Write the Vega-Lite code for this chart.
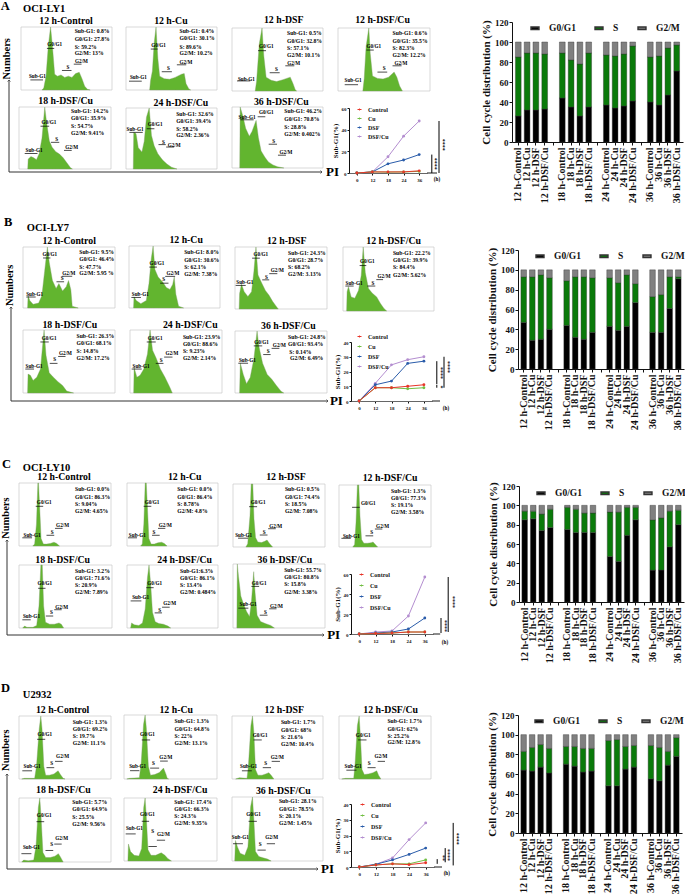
{"$schema":"https://vega.github.io/schema/vega-lite/v6.json","width":685,"height":895,"padding":0,"autosize":"none","background":"white",
"config":{"view":{"stroke":null},"axis":{"disable":true,"grid":false,"labelFont":"Liberation Serif","titleFont":"Liberation Serif","labelFontWeight":"bold","titleFontWeight":"bold","labelColor":"#111","titleColor":"#111","domainColor":"#111","tickColor":"#111","labelOverlap":false,"labelFlush":false},
"legend":{"labelFont":"Liberation Serif","labelFontWeight":"bold","labelColor":"#111","padding":0},
"style":{"f":{"stroke":"#c9c9c9","strokeWidth":0.7},"h":{"stroke":"#7d9c68","strokeWidth":0.4},"g":{"stroke":"#222","strokeWidth":0.7},"t":{"font":"Liberation Serif","fontWeight":"bold","fill":"#111","baseline":"middle","fontSize":{"expr":"{s:5.7,t:9.8,h:10.5,l:12.5,p:13}[datum.k]||5.2"},"align":{"expr":"(datum.k&&datum.k!='t')?'left':'center'"}},"n":{"font":"Liberation Serif","fontWeight":"bold","fill":"#111","fontSize":10.5,"angle":270,"align":"center","baseline":"middle"},"z":{"font":"Liberation Serif","fontWeight":"bold","fill":"#333","fontSize":6,"angle":90,"align":"center","baseline":"middle"},"w":{"stroke":"#555","strokeWidth":0.9},"v":{"stroke":"#555","strokeWidth":1}}},
"datasets":{
"ba":[{"x":"12 h-Control","a":26,"b":59,"c":15},{"x":"12 h-Cu","a":32,"b":57,"c":11},{"x":"12 h-DSF","a":32,"b":57,"c":11},{"x":"12 h-DSF/Cu","a":33,"b":55,"c":12},{"x":"18 h-Control","a":44,"b":45,"c":11},{"x":"18 h-Cu","a":35,"b":47,"c":18},{"x":"18 h-DSF","a":26,"b":52,"c":22},{"x":"18 h-DSF/Cu","a":35,"b":54,"c":11},{"x":"24 h-Control","a":37,"b":50,"c":13},{"x":"24 h-Cu","a":34,"b":52,"c":14},{"x":"24 h-DSF","a":36,"b":52,"c":12},{"x":"24 h-DSF/Cu","a":41,"b":55,"c":4},{"x":"36 h-Control","a":40,"b":45,"c":15},{"x":"36 h-Cu","a":37,"b":49,"c":14},{"x":"36 h-DSF","a":47,"b":47,"c":6},{"x":"36 h-DSF/Cu","a":71,"b":26,"c":3}],
"bb":[{"x":"12 h-Control","a":47,"b":46,"c":7},{"x":"12 h-Cu","a":29,"b":64,"c":7},{"x":"12 h-DSF","a":30,"b":65,"c":5},{"x":"12 h-DSF/Cu","a":40,"b":52,"c":8},{"x":"18 h-Control","a":44,"b":45,"c":11},{"x":"18 h-Cu","a":32,"b":61,"c":7},{"x":"18 h-DSF","a":30,"b":63,"c":7},{"x":"18 h-DSF/Cu","a":37,"b":55,"c":8},{"x":"24 h-Control","a":43,"b":49,"c":8},{"x":"24 h-Cu","a":39,"b":48,"c":13},{"x":"24 h-DSF","a":43,"b":52,"c":5},{"x":"24 h-DSF/Cu","a":67,"b":19,"c":14},{"x":"36 h-Control","a":37,"b":36,"c":27},{"x":"36 h-Cu","a":37,"b":38,"c":25},{"x":"36 h-DSF","a":61,"b":32,"c":7},{"x":"36 h-DSF/Cu","a":91,"b":2,"c":7}],
"bc":[{"x":"12 h-Control","a":85,"b":9,"c":6},{"x":"12 h-Cu","a":86,"b":8,"c":6},{"x":"12 h-DSF","a":74,"b":17,"c":9},{"x":"12 h-DSF/Cu","a":77,"b":19,"c":4},{"x":"18 h-Control","a":75,"b":23,"c":2},{"x":"18 h-Cu","a":72,"b":24,"c":4},{"x":"18 h-DSF","a":72,"b":20,"c":8},{"x":"18 h-DSF/Cu","a":72,"b":20,"c":8},{"x":"24 h-Control","a":47,"b":46,"c":7},{"x":"24 h-Cu","a":42,"b":51,"c":7},{"x":"24 h-DSF","a":69,"b":29,"c":2},{"x":"24 h-DSF/Cu","a":85,"b":13,"c":2},{"x":"36 h-Control","a":33,"b":52,"c":15},{"x":"36 h-Cu","a":33,"b":54,"c":13},{"x":"36 h-DSF","a":57,"b":37,"c":6},{"x":"36 h-DSF/Cu","a":80,"b":15,"c":5}],
"bd":[{"x":"12 h-Control","a":64,"b":19,"c":17},{"x":"12 h-Cu","a":63,"b":24,"c":13},{"x":"12 h-DSF","a":67,"b":23,"c":10},{"x":"12 h-DSF/Cu","a":61,"b":25,"c":14},{"x":"18 h-Control","a":70,"b":18,"c":12},{"x":"18 h-Cu","a":68,"b":20,"c":12},{"x":"18 h-DSF","a":62,"b":24,"c":14},{"x":"18 h-DSF/Cu","a":63,"b":23,"c":14},{"x":"24 h-Control","a":48,"b":46,"c":6},{"x":"24 h-Cu","a":48,"b":47,"c":5},{"x":"24 h-DSF","a":65,"b":23,"c":12},{"x":"24 h-DSF/Cu","a":67,"b":22,"c":11},{"x":"36 h-Control","a":55,"b":34,"c":11},{"x":"36 h-Cu","a":53,"b":34,"c":13},{"x":"36 h-DSF","a":69,"b":14,"c":17},{"x":"36 h-DSF/Cu","a":78,"b":19,"c":3}]},
"resolve":{"scale":{"x":"independent","y":"independent","color":"independent"},"axis":{"x":"independent","y":"independent"},"legend":{"color":"independent"}},
"layer":[
{"data":{"values":[{"u":0,"v":100,"o":1},{"u":0,"v":0,"o":2},{"u":100,"v":0,"o":3},{"r1":0,"r2":100,"r":0},{"r1":100,"r2":0,"r":90},{"p":-2.6,"q":180,"t":"A","k":"l"},{"p":4.5,"q":177,"t":"OCI-LY1","k":"h"},{"p":101.3,"q":0,"t":"PI","k":"p"},{"e":-0.6,"d":123,"t2":"Numbers"}]},"layer":[{"mark":{"type":"line","color":"#333","strokeWidth":1},"encoding":{"x":{"field":"u","type":"quantitative","scale":{"domain":[0,100],"range":[9,322]}},"y":{"field":"v","type":"quantitative","scale":{"domain":[0,100],"range":[172,80]}},"order":{"field":"o"}}},{"mark":{"type":"point","shape":"M-1,1L0,0L1,1","filled":false,"size":9,"stroke":"#333","strokeWidth":1},"encoding":{"x":{"field":"r1","type":"quantitative"},"y":{"field":"r2","type":"quantitative"},"angle":{"field":"r","type":"quantitative","scale":null}}},{"mark":{"type":"text","style":"t"},"encoding":{"x":{"field":"p","type":"quantitative"},"y":{"field":"q","type":"quantitative"},"text":{"field":"t"}}},{"mark":{"type":"text","style":"n"},"encoding":{"x":{"field":"e","type":"quantitative"},"y":{"field":"d","type":"quantitative"},"text":{"field":"t2"}}}]},
{"data":{"values":[{"u":0,"v":100,"o":1},{"u":0,"v":0,"o":2},{"u":100,"v":0,"o":3},{"r1":0,"r2":100,"r":0},{"r1":100,"r2":0,"r":90},{"p":-2.2,"q":190,"t":"B","k":"l"},{"p":5,"q":184,"t":"OCI-LY7","k":"h"},{"p":100.6,"q":0,"t":"PI","k":"p"},{"e":-0.3,"d":123,"t2":"Numbers"}]},"layer":[{"mark":{"type":"line","color":"#333","strokeWidth":1},"encoding":{"x":{"field":"u","type":"quantitative","scale":{"domain":[0,100],"range":[11,328]}},"y":{"field":"v","type":"quantitative","scale":{"domain":[0,100],"range":[401,307]}},"order":{"field":"o"}}},{"mark":{"type":"point","shape":"M-1,1L0,0L1,1","filled":false,"size":9,"stroke":"#333","strokeWidth":1},"encoding":{"x":{"field":"r1","type":"quantitative"},"y":{"field":"r2","type":"quantitative"},"angle":{"field":"r","type":"quantitative","scale":null}}},{"mark":{"type":"text","style":"t"},"encoding":{"x":{"field":"p","type":"quantitative"},"y":{"field":"q","type":"quantitative"},"text":{"field":"t"}}},{"mark":{"type":"text","style":"n"},"encoding":{"x":{"field":"e","type":"quantitative"},"y":{"field":"d","type":"quantitative"},"text":{"field":"t2"}}}]},
{"data":{"values":[{"u":0,"v":100,"o":1},{"u":0,"v":0,"o":2},{"u":100,"v":0,"o":3},{"r1":0,"r2":100,"r":0},{"r1":100,"r2":0,"r":90},{"p":-1.6,"q":180,"t":"C","k":"l"},{"p":5,"q":176,"t":"OCI-LY10","k":"h"},{"p":101,"q":0,"t":"PI","k":"p"},{"e":-0.3,"d":123,"t2":"Numbers"}]},"layer":[{"mark":{"type":"line","color":"#333","strokeWidth":1},"encoding":{"x":{"field":"u","type":"quantitative","scale":{"domain":[0,100],"range":[7,324]}},"y":{"field":"v","type":"quantitative","scale":{"domain":[0,100],"range":[635,540]}},"order":{"field":"o"}}},{"mark":{"type":"point","shape":"M-1,1L0,0L1,1","filled":false,"size":9,"stroke":"#333","strokeWidth":1},"encoding":{"x":{"field":"r1","type":"quantitative"},"y":{"field":"r2","type":"quantitative"},"angle":{"field":"r","type":"quantitative","scale":null}}},{"mark":{"type":"text","style":"t"},"encoding":{"x":{"field":"p","type":"quantitative"},"y":{"field":"q","type":"quantitative"},"text":{"field":"t"}}},{"mark":{"type":"text","style":"n"},"encoding":{"x":{"field":"e","type":"quantitative"},"y":{"field":"d","type":"quantitative"},"text":{"field":"t2"}}}]},
{"data":{"values":[{"u":0,"v":100,"o":1},{"u":0,"v":0,"o":2},{"u":100,"v":0,"o":3},{"r1":0,"r2":100,"r":0},{"r1":100,"r2":0,"r":90},{"p":-1.9,"q":191,"t":"D","k":"l"},{"p":5.1,"q":183,"t":"U2932","k":"h"},{"p":101,"q":0,"t":"PI","k":"p"},{"e":-0.3,"d":125,"t2":"Numbers"}]},"layer":[{"mark":{"type":"line","color":"#333","strokeWidth":1},"encoding":{"x":{"field":"u","type":"quantitative","scale":{"domain":[0,100],"range":[7,318]}},"y":{"field":"v","type":"quantitative","scale":{"domain":[0,100],"range":[869,774]}},"order":{"field":"o"}}},{"mark":{"type":"point","shape":"M-1,1L0,0L1,1","filled":false,"size":9,"stroke":"#333","strokeWidth":1},"encoding":{"x":{"field":"r1","type":"quantitative"},"y":{"field":"r2","type":"quantitative"},"angle":{"field":"r","type":"quantitative","scale":null}}},{"mark":{"type":"text","style":"t"},"encoding":{"x":{"field":"p","type":"quantitative"},"y":{"field":"q","type":"quantitative"},"text":{"field":"t"}}},{"mark":{"type":"text","style":"n"},"encoding":{"x":{"field":"e","type":"quantitative"},"y":{"field":"d","type":"quantitative"},"text":{"field":"t2"}}}]},

{"data":{"values":[{"c":230,"n":0},{"c":250,"n":3},{"c":275,"n":22},{"c":300,"n":70},{"c":325,"n":100},{"c":345,"n":70},{"c":370,"n":25},{"c":400,"n":22},{"c":440,"n":24},{"c":480,"n":20},{"c":520,"n":22},{"c":560,"n":20},{"c":600,"n":26},{"c":640,"n":28},{"c":670,"n":18},{"c":700,"n":6},{"c":730,"n":1},{"c":760,"n":0},{"f":0,"f2":1000,"g":0,"g2":100},{"a":103,"b":242,"h":16},{"a":285,"b":365,"h":66},{"a":450,"b":555,"h":31},{"a":580,"b":665,"h":41},{"p":180,"q":22,"t":"Sub-G1"},{"p":370,"q":73,"t":"G0/G1"},{"p":515,"q":37,"t":"S"},{"p":665,"q":46,"t":"G2/M"},{"p":590,"q":93,"k":"s","t":"Sub-G1: 0.8%"},{"p":590,"q":81,"k":"s","t":"G0/G1: 27.8%"},{"p":590,"q":69,"k":"s","t":"S: 59.2%"},{"p":590,"q":59,"k":"s","t":"G2/M: 13%"},{"p":495,"q":109,"k":"t","t":"12 h-Control"}]},"layer":[{"mark":{"type":"rect","style":"f","fill":"transparent"},"encoding":{"x":{"field":"f","type":"quantitative","scale":{"domain":[0,1000],"range":[21,112]}},"x2":{"field":"f2"},"y":{"field":"g","type":"quantitative","scale":{"domain":[0,100],"range":[90,27]}},"y2":{"field":"g2"}}},{"mark":{"type":"area","style":"h","fill":"#62b52f"},"encoding":{"x":{"field":"c","type":"quantitative"},"y":{"field":"n","type":"quantitative"}}},{"mark":{"type":"rule","style":"g"},"encoding":{"x":{"field":"a","type":"quantitative"},"x2":{"field":"b"},"y":{"field":"h","type":"quantitative"}}},{"mark":{"type":"text","style":"t"},"encoding":{"x":{"field":"p","type":"quantitative"},"y":{"field":"q","type":"quantitative"},"text":{"field":"t"}}}]},
{"data":{"values":[{"c":260,"n":0},{"c":270,"n":15},{"c":290,"n":30},{"c":310,"n":75},{"c":330,"n":100},{"c":350,"n":50},{"c":370,"n":22},{"c":420,"n":18},{"c":480,"n":17},{"c":540,"n":20},{"c":610,"n":25},{"c":640,"n":26},{"c":660,"n":10},{"c":690,"n":2},{"c":710,"n":0},{"f":0,"f2":1000,"g":0,"g2":100},{"a":33,"b":173,"h":14},{"a":272,"b":349,"h":65},{"a":393,"b":504,"h":29},{"a":559,"b":662,"h":40},{"p":136,"q":20,"t":"Sub-G1"},{"p":357,"q":72,"t":"G0/G1"},{"p":467,"q":35,"t":"S"},{"p":658,"q":44,"t":"G2/M"},{"p":588,"q":94,"k":"s","t":"Sub-G1: 0.4%"},{"p":588,"q":82,"k":"s","t":"G0/G1: 30.1%"},{"p":588,"q":69,"k":"s","t":"S: 89.6%"},{"p":588,"q":59,"k":"s","t":"G2/M: 10.2%"},{"p":493,"q":110,"k":"t","t":"12 h-Cu"}]},"layer":[{"mark":{"type":"rect","style":"f","fill":"transparent"},"encoding":{"x":{"field":"f","type":"quantitative","scale":{"domain":[0,1000],"range":[126,217]}},"x2":{"field":"f2"},"y":{"field":"g","type":"quantitative","scale":{"domain":[0,100],"range":[90,27]}},"y2":{"field":"g2"}}},{"mark":{"type":"area","style":"h","fill":"#62b52f"},"encoding":{"x":{"field":"c","type":"quantitative"},"y":{"field":"n","type":"quantitative"}}},{"mark":{"type":"rule","style":"g"},"encoding":{"x":{"field":"a","type":"quantitative"},"x2":{"field":"b"},"y":{"field":"h","type":"quantitative"}}},{"mark":{"type":"text","style":"t"},"encoding":{"x":{"field":"p","type":"quantitative"},"y":{"field":"q","type":"quantitative"},"text":{"field":"t"}}}]},
{"data":{"values":[{"c":255,"n":0},{"c":270,"n":15},{"c":300,"n":75},{"c":330,"n":100},{"c":350,"n":55},{"c":375,"n":22},{"c":430,"n":17},{"c":490,"n":15},{"c":560,"n":18},{"c":640,"n":22},{"c":670,"n":12},{"c":695,"n":2},{"c":710,"n":0},{"f":0,"f2":1000,"g":0,"g2":100},{"a":55,"b":201,"h":16},{"a":286,"b":374,"h":64},{"a":414,"b":524,"h":29},{"a":586,"b":685,"h":40},{"p":158,"q":19,"t":"Sub-G1"},{"p":377,"q":72,"t":"G0/G1"},{"p":487,"q":35,"t":"S"},{"p":678,"q":45,"t":"G2/M"},{"p":604,"q":92,"k":"s","t":"Sub-G1: 0.5%"},{"p":604,"q":80,"k":"s","t":"G0/G1: 32.8%"},{"p":604,"q":68,"k":"s","t":"S: 57.1%"},{"p":604,"q":57,"k":"s","t":"G2/M: 10.1%"},{"p":568,"q":112,"k":"t","t":"12 h-DSF"}]},"layer":[{"mark":{"type":"rect","style":"f","fill":"transparent"},"encoding":{"x":{"field":"f","type":"quantitative","scale":{"domain":[0,1000],"range":[232,323]}},"x2":{"field":"f2"},"y":{"field":"g","type":"quantitative","scale":{"domain":[0,100],"range":[91,28]}},"y2":{"field":"g2"}}},{"mark":{"type":"area","style":"h","fill":"#62b52f"},"encoding":{"x":{"field":"c","type":"quantitative"},"y":{"field":"n","type":"quantitative"}}},{"mark":{"type":"rule","style":"g"},"encoding":{"x":{"field":"a","type":"quantitative"},"x2":{"field":"b"},"y":{"field":"h","type":"quantitative"}}},{"mark":{"type":"text","style":"t"},"encoding":{"x":{"field":"p","type":"quantitative"},"y":{"field":"q","type":"quantitative"},"text":{"field":"t"}}}]},
{"data":{"values":[{"c":270,"n":0},{"c":285,"n":20},{"c":305,"n":70},{"c":335,"n":100},{"c":350,"n":60},{"c":375,"n":24},{"c":430,"n":20},{"c":490,"n":19},{"c":550,"n":22},{"c":610,"n":30},{"c":640,"n":22},{"c":670,"n":8},{"c":700,"n":0},{"f":0,"f2":1000,"g":0,"g2":100},{"a":73,"b":218,"h":10},{"a":309,"b":389,"h":65},{"a":429,"b":535,"h":30},{"a":593,"b":691,"h":40},{"p":164,"q":18,"t":"Sub-G1"},{"p":389,"q":72,"t":"G0/G1"},{"p":502,"q":36,"t":"S"},{"p":684,"q":45,"t":"G2/M"},{"p":593,"q":92,"k":"s","t":"Sub-G1: 0.6%"},{"p":593,"q":80,"k":"s","t":"G0/G1: 35.5%"},{"p":593,"q":68,"k":"s","t":"S: 82.3%"},{"p":593,"q":57,"k":"s","t":"G2/M: 12.2%"},{"p":484,"q":112,"k":"t","t":"12 h-DSF/Cu"}]},"layer":[{"mark":{"type":"rect","style":"f","fill":"transparent"},"encoding":{"x":{"field":"f","type":"quantitative","scale":{"domain":[0,1000],"range":[338,430]}},"x2":{"field":"f2"},"y":{"field":"g","type":"quantitative","scale":{"domain":[0,100],"range":[91,28]}},"y2":{"field":"g2"}}},{"mark":{"type":"area","style":"h","fill":"#62b52f"},"encoding":{"x":{"field":"c","type":"quantitative"},"y":{"field":"n","type":"quantitative"}}},{"mark":{"type":"rule","style":"g"},"encoding":{"x":{"field":"a","type":"quantitative"},"x2":{"field":"b"},"y":{"field":"h","type":"quantitative"}}},{"mark":{"type":"text","style":"t"},"encoding":{"x":{"field":"p","type":"quantitative"},"y":{"field":"q","type":"quantitative"},"text":{"field":"t"}}}]},
{"data":{"values":[{"c":95,"n":0},{"c":100,"n":16},{"c":130,"n":20},{"c":160,"n":18},{"c":190,"n":15},{"c":220,"n":25},{"c":250,"n":50},{"c":280,"n":100},{"c":300,"n":75},{"c":330,"n":45},{"c":360,"n":35},{"c":400,"n":28},{"c":440,"n":24},{"c":480,"n":18},{"c":520,"n":10},{"c":560,"n":2},{"c":580,"n":0},{"f":0,"f2":1000,"g":0,"g2":100},{"a":62,"b":201,"h":25},{"a":234,"b":328,"h":69},{"a":347,"b":438,"h":43},{"a":489,"b":573,"h":30},{"p":164,"q":30,"t":"Sub-G1"},{"p":325,"q":76,"t":"G0/G1"},{"p":409,"q":49,"t":"S"},{"p":573,"q":35,"t":"G2/M"},{"p":566,"q":94,"k":"s","t":"Sub-G1: 14.2%"},{"p":566,"q":82,"k":"s","t":"G0/G1: 35.9%"},{"p":566,"q":70,"k":"s","t":"S: 54.7%"},{"p":566,"q":58,"k":"s","t":"G2/M: 9.41%"},{"p":507,"q":109,"k":"t","t":"18 h-DSF/Cu"}]},"layer":[{"mark":{"type":"rect","style":"f","fill":"transparent"},"encoding":{"x":{"field":"f","type":"quantitative","scale":{"domain":[0,1000],"range":[19,111]}},"x2":{"field":"f2"},"y":{"field":"g","type":"quantitative","scale":{"domain":[0,100],"range":[169,107]}},"y2":{"field":"g2"}}},{"mark":{"type":"area","style":"h","fill":"#62b52f"},"encoding":{"x":{"field":"c","type":"quantitative"},"y":{"field":"n","type":"quantitative"}}},{"mark":{"type":"rule","style":"g"},"encoding":{"x":{"field":"a","type":"quantitative"},"x2":{"field":"b"},"y":{"field":"h","type":"quantitative"}}},{"mark":{"type":"text","style":"t"},"encoding":{"x":{"field":"p","type":"quantitative"},"y":{"field":"q","type":"quantitative"},"text":{"field":"t"}}}]},
{"data":{"values":[{"c":80,"n":0},{"c":85,"n":60},{"c":110,"n":58},{"c":135,"n":35},{"c":175,"n":28},{"c":200,"n":45},{"c":225,"n":85},{"c":255,"n":100},{"c":280,"n":55},{"c":310,"n":38},{"c":350,"n":25},{"c":400,"n":15},{"c":450,"n":8},{"c":500,"n":3},{"c":560,"n":0},{"f":0,"f2":1000,"g":0,"g2":100},{"a":37,"b":184,"h":60},{"a":228,"b":312,"h":66},{"a":357,"b":437,"h":40},{"a":441,"b":529,"h":36},{"p":99,"q":66,"t":"Sub-G1"},{"p":320,"q":73,"t":"G0/G1"},{"p":412,"q":45,"t":"S"},{"p":529,"q":40,"t":"G2/M"},{"p":551,"q":90,"k":"s","t":"Sub-G1: 32.6%"},{"p":551,"q":78,"k":"s","t":"G0/G1: 39.4%"},{"p":551,"q":66,"k":"s","t":"S: 58.2%"},{"p":551,"q":55,"k":"s","t":"G2/M: 2.36%"},{"p":603,"q":109,"k":"t","t":"24 h-DSF/Cu"}]},"layer":[{"mark":{"type":"rect","style":"f","fill":"transparent"},"encoding":{"x":{"field":"f","type":"quantitative","scale":{"domain":[0,1000],"range":[126,217]}},"x2":{"field":"f2"},"y":{"field":"g","type":"quantitative","scale":{"domain":[0,100],"range":[169,108]}},"y2":{"field":"g2"}}},{"mark":{"type":"area","style":"h","fill":"#62b52f"},"encoding":{"x":{"field":"c","type":"quantitative"},"y":{"field":"n","type":"quantitative"}}},{"mark":{"type":"rule","style":"g"},"encoding":{"x":{"field":"a","type":"quantitative"},"x2":{"field":"b"},"y":{"field":"h","type":"quantitative"}}},{"mark":{"type":"text","style":"t"},"encoding":{"x":{"field":"p","type":"quantitative"},"y":{"field":"q","type":"quantitative"},"text":{"field":"t"}}}]},
{"data":{"values":[{"c":85,"n":0},{"c":90,"n":100},{"c":120,"n":85},{"c":150,"n":65},{"c":190,"n":52},{"c":220,"n":60},{"c":265,"n":78},{"c":290,"n":50},{"c":320,"n":28},{"c":360,"n":18},{"c":400,"n":10},{"c":450,"n":5},{"c":500,"n":2},{"c":570,"n":0},{"f":0,"f2":1000,"g":0,"g2":100},{"a":92,"b":238,"h":79},{"a":282,"b":366,"h":84},{"a":403,"b":495,"h":39},{"a":505,"b":593,"h":21},{"p":165,"q":84,"t":"Sub-G1"},{"p":377,"q":92,"t":"G0/G1"},{"p":458,"q":44,"t":"S"},{"p":593,"q":27,"t":"G2/M"},{"p":575,"q":93,"k":"s","t":"Sub-G1: 46.2%"},{"p":575,"q":81,"k":"s","t":"G0/G1: 70.8%"},{"p":575,"q":68,"k":"s","t":"S: 28.8%"},{"p":575,"q":56,"k":"s","t":"G2/M: 0.402%"},{"p":542,"q":109,"k":"t","t":"36 h-DSF/Cu"}]},"layer":[{"mark":{"type":"rect","style":"f","fill":"transparent"},"encoding":{"x":{"field":"f","type":"quantitative","scale":{"domain":[0,1000],"range":[232,323]}},"x2":{"field":"f2"},"y":{"field":"g","type":"quantitative","scale":{"domain":[0,100],"range":[168,107]}},"y2":{"field":"g2"}}},{"mark":{"type":"area","style":"h","fill":"#62b52f"},"encoding":{"x":{"field":"c","type":"quantitative"},"y":{"field":"n","type":"quantitative"}}},{"mark":{"type":"rule","style":"g"},"encoding":{"x":{"field":"a","type":"quantitative"},"x2":{"field":"b"},"y":{"field":"h","type":"quantitative"}}},{"mark":{"type":"text","style":"t"},"encoding":{"x":{"field":"p","type":"quantitative"},"y":{"field":"q","type":"quantitative"},"text":{"field":"t"}}}]},

{"data":{"values":[{"c":50,"n":0},{"c":55,"n":20},{"c":75,"n":12},{"c":110,"n":6},{"c":170,"n":8},{"c":205,"n":20},{"c":235,"n":60},{"c":265,"n":100},{"c":285,"n":75},{"c":320,"n":45},{"c":360,"n":32},{"c":390,"n":40},{"c":430,"n":28},{"c":470,"n":35},{"c":495,"n":45},{"c":520,"n":30},{"c":535,"n":3},{"c":600,"n":0},{"f":0,"f2":1000,"g":0,"g2":100},{"a":36,"b":138,"h":18},{"a":218,"b":298,"h":82},{"a":364,"b":447,"h":43},{"a":425,"b":535,"h":52},{"p":127,"q":23,"t":"Sub-G1"},{"p":291,"q":89,"t":"G0/G1"},{"p":425,"q":49,"t":"S"},{"p":498,"q":58,"t":"G2/M"},{"p":611,"q":92,"k":"s","t":"Sub-G1: 9.5%"},{"p":611,"q":80,"k":"s","t":"G0/G1: 46.4%"},{"p":611,"q":68,"k":"s","t":"S: 47.7%"},{"p":611,"q":57,"k":"s","t":"G2/M: 5.95 %"},{"p":502,"q":110,"k":"t","t":"12 h-Control"}]},"layer":[{"mark":{"type":"rect","style":"f","fill":"transparent"},"encoding":{"x":{"field":"f","type":"quantitative","scale":{"domain":[0,1000],"range":[23,115]}},"x2":{"field":"f2"},"y":{"field":"g","type":"quantitative","scale":{"domain":[0,100],"range":[308,247]}},"y2":{"field":"g2"}}},{"mark":{"type":"area","style":"h","fill":"#62b52f"},"encoding":{"x":{"field":"c","type":"quantitative"},"y":{"field":"n","type":"quantitative"}}},{"mark":{"type":"rule","style":"g"},"encoding":{"x":{"field":"a","type":"quantitative"},"x2":{"field":"b"},"y":{"field":"h","type":"quantitative"}}},{"mark":{"type":"text","style":"t"},"encoding":{"x":{"field":"p","type":"quantitative"},"y":{"field":"q","type":"quantitative"},"text":{"field":"t"}}}]},
{"data":{"values":[{"c":50,"n":0},{"c":55,"n":18},{"c":80,"n":12},{"c":130,"n":7},{"c":190,"n":12},{"c":220,"n":40},{"c":245,"n":80},{"c":265,"n":100},{"c":285,"n":62},{"c":320,"n":50},{"c":370,"n":42},{"c":410,"n":33},{"c":450,"n":30},{"c":480,"n":38},{"c":497,"n":50},{"c":515,"n":22},{"c":545,"n":3},{"c":600,"n":0},{"f":0,"f2":1000,"g":0,"g2":100},{"a":26,"b":131,"h":17},{"a":223,"b":307,"h":66},{"a":343,"b":434,"h":40},{"a":398,"b":507,"h":51},{"p":124,"q":22,"t":"Sub-G1"},{"p":307,"q":73,"t":"G0/G1"},{"p":380,"q":47,"t":"S"},{"p":482,"q":56,"t":"G2/M"},{"p":606,"q":90,"k":"s","t":"Sub-G1: 8.0%"},{"p":606,"q":78,"k":"s","t":"G0/G1: 30.6%"},{"p":606,"q":66,"k":"s","t":"S: 62.1%"},{"p":606,"q":55,"k":"s","t":"G2/M: 7.38%"},{"p":628,"q":109,"k":"t","t":"12 h-Cu"}]},"layer":[{"mark":{"type":"rect","style":"f","fill":"transparent"},"encoding":{"x":{"field":"f","type":"quantitative","scale":{"domain":[0,1000],"range":[129,220]}},"x2":{"field":"f2"},"y":{"field":"g","type":"quantitative","scale":{"domain":[0,100],"range":[308,246]}},"y2":{"field":"g2"}}},{"mark":{"type":"area","style":"h","fill":"#62b52f"},"encoding":{"x":{"field":"c","type":"quantitative"},"y":{"field":"n","type":"quantitative"}}},{"mark":{"type":"rule","style":"g"},"encoding":{"x":{"field":"a","type":"quantitative"},"x2":{"field":"b"},"y":{"field":"h","type":"quantitative"}}},{"mark":{"type":"text","style":"t"},"encoding":{"x":{"field":"p","type":"quantitative"},"y":{"field":"q","type":"quantitative"},"text":{"field":"t"}}}]},
{"data":{"values":[{"c":45,"n":0},{"c":50,"n":25},{"c":70,"n":40},{"c":100,"n":28},{"c":140,"n":20},{"c":180,"n":28},{"c":205,"n":60},{"c":228,"n":100},{"c":250,"n":55},{"c":290,"n":42},{"c":330,"n":30},{"c":370,"n":22},{"c":410,"n":12},{"c":445,"n":5},{"c":470,"n":0},{"f":0,"f2":1000,"g":0,"g2":100},{"a":7,"b":117,"h":38},{"a":186,"b":270,"h":82},{"a":296,"b":372,"h":47},{"a":372,"b":460,"h":57},{"p":106,"q":43,"t":"Sub-G1"},{"p":281,"q":88,"t":"G0/G1"},{"p":343,"q":52,"t":"S"},{"p":460,"q":63,"t":"G2/M"},{"p":577,"q":90,"k":"s","t":"Sub-G1: 24.3%"},{"p":577,"q":79,"k":"s","t":"G0/G1: 28.7%"},{"p":577,"q":67,"k":"s","t":"S: 68.2%"},{"p":577,"q":56,"k":"s","t":"G2/M: 3.13%"},{"p":562,"q":110,"k":"t","t":"12 h-DSF"}]},"layer":[{"mark":{"type":"rect","style":"f","fill":"transparent"},"encoding":{"x":{"field":"f","type":"quantitative","scale":{"domain":[0,1000],"range":[235,327]}},"x2":{"field":"f2"},"y":{"field":"g","type":"quantitative","scale":{"domain":[0,100],"range":[309,247]}},"y2":{"field":"g2"}}},{"mark":{"type":"area","style":"h","fill":"#62b52f"},"encoding":{"x":{"field":"c","type":"quantitative"},"y":{"field":"n","type":"quantitative"}}},{"mark":{"type":"rule","style":"g"},"encoding":{"x":{"field":"a","type":"quantitative"},"x2":{"field":"b"},"y":{"field":"h","type":"quantitative"}}},{"mark":{"type":"text","style":"t"},"encoding":{"x":{"field":"p","type":"quantitative"},"y":{"field":"q","type":"quantitative"},"text":{"field":"t"}}}]},
{"data":{"values":[{"c":40,"n":0},{"c":45,"n":30},{"c":60,"n":38},{"c":90,"n":22},{"c":130,"n":20},{"c":170,"n":32},{"c":200,"n":55},{"c":222,"n":100},{"c":245,"n":60},{"c":280,"n":35},{"c":320,"n":28},{"c":370,"n":22},{"c":410,"n":12},{"c":450,"n":4},{"c":480,"n":0},{"f":0,"f2":1000,"g":0,"g2":100},{"a":26,"b":117,"h":39},{"a":183,"b":256,"h":71},{"a":267,"b":355,"h":39},{"a":366,"b":440,"h":49},{"p":121,"q":44,"t":"Sub-G1"},{"p":267,"q":78,"t":"G0/G1"},{"p":330,"q":44,"t":"S"},{"p":451,"q":54,"t":"G2/M"},{"p":549,"q":90,"k":"s","t":"Sub-G1: 22.2%"},{"p":549,"q":79,"k":"s","t":"G0/G1: 39.9%"},{"p":549,"q":68,"k":"s","t":"S: 84.4%"},{"p":549,"q":56,"k":"s","t":"G2/M: 5.62%"},{"p":557,"q":109,"k":"t","t":"12 h-DSF/Cu"}]},"layer":[{"mark":{"type":"rect","style":"f","fill":"transparent"},"encoding":{"x":{"field":"f","type":"quantitative","scale":{"domain":[0,1000],"range":[343,434]}},"x2":{"field":"f2"},"y":{"field":"g","type":"quantitative","scale":{"domain":[0,100],"range":[311,247]}},"y2":{"field":"g2"}}},{"mark":{"type":"area","style":"h","fill":"#62b52f"},"encoding":{"x":{"field":"c","type":"quantitative"},"y":{"field":"n","type":"quantitative"}}},{"mark":{"type":"rule","style":"g"},"encoding":{"x":{"field":"a","type":"quantitative"},"x2":{"field":"b"},"y":{"field":"h","type":"quantitative"}}},{"mark":{"type":"text","style":"t"},"encoding":{"x":{"field":"p","type":"quantitative"},"y":{"field":"q","type":"quantitative"},"text":{"field":"t"}}}]},
{"data":{"values":[{"c":50,"n":0},{"c":55,"n":30},{"c":80,"n":28},{"c":110,"n":20},{"c":150,"n":25},{"c":190,"n":38},{"c":229,"n":100},{"c":250,"n":60},{"c":285,"n":32},{"c":330,"n":25},{"c":380,"n":18},{"c":430,"n":12},{"c":475,"n":3},{"c":550,"n":0},{"f":0,"f2":1000,"g":0,"g2":100},{"a":25,"b":120,"h":38},{"a":189,"b":280,"h":81},{"a":291,"b":375,"h":47},{"a":382,"b":462,"h":58},{"p":120,"q":43,"t":"Sub-G1"},{"p":284,"q":88,"t":"G0/G1"},{"p":345,"q":54,"t":"S"},{"p":462,"q":63,"t":"G2/M"},{"p":582,"q":91,"k":"s","t":"Sub-G1: 26.3%"},{"p":582,"q":79,"k":"s","t":"G0/G1: 68.1%"},{"p":582,"q":67,"k":"s","t":"S: 14.8%"},{"p":582,"q":56,"k":"s","t":"G2/M: 17.2%"},{"p":509,"q":108,"k":"t","t":"18 h-DSF/Cu"}]},"layer":[{"mark":{"type":"rect","style":"f","fill":"transparent"},"encoding":{"x":{"field":"f","type":"quantitative","scale":{"domain":[0,1000],"range":[23,115]}},"x2":{"field":"f2"},"y":{"field":"g","type":"quantitative","scale":{"domain":[0,100],"range":[393,330]}},"y2":{"field":"g2"}}},{"mark":{"type":"area","style":"h","fill":"#62b52f"},"encoding":{"x":{"field":"c","type":"quantitative"},"y":{"field":"n","type":"quantitative"}}},{"mark":{"type":"rule","style":"g"},"encoding":{"x":{"field":"a","type":"quantitative"},"x2":{"field":"b"},"y":{"field":"h","type":"quantitative"}}},{"mark":{"type":"text","style":"t"},"encoding":{"x":{"field":"p","type":"quantitative"},"y":{"field":"q","type":"quantitative"},"text":{"field":"t"}}}]},
{"data":{"values":[{"c":40,"n":0},{"c":45,"n":40},{"c":75,"n":25},{"c":110,"n":28},{"c":150,"n":38},{"c":190,"n":62},{"c":218,"n":100},{"c":245,"n":68},{"c":285,"n":55},{"c":330,"n":38},{"c":380,"n":25},{"c":430,"n":10},{"c":460,"n":0},{"f":0,"f2":1000,"g":0,"g2":100},{"a":18,"b":127,"h":38},{"a":182,"b":280,"h":81},{"a":280,"b":364,"h":47},{"a":371,"b":462,"h":57},{"p":120,"q":43,"t":"Sub-G1"},{"p":273,"q":88,"t":"G0/G1"},{"p":338,"q":52,"t":"S"},{"p":455,"q":63,"t":"G2/M"},{"p":575,"q":89,"k":"s","t":"Sub-G1: 23.9%"},{"p":575,"q":78,"k":"s","t":"G0/G1: 88.6%"},{"p":575,"q":66,"k":"s","t":"S: 9.23%"},{"p":575,"q":55,"k":"s","t":"G2/M: 2.14%"},{"p":655,"q":108,"k":"t","t":"24 h-DSF/Cu"}]},"layer":[{"mark":{"type":"rect","style":"f","fill":"transparent"},"encoding":{"x":{"field":"f","type":"quantitative","scale":{"domain":[0,1000],"range":[130,222]}},"x2":{"field":"f2"},"y":{"field":"g","type":"quantitative","scale":{"domain":[0,100],"range":[393,330]}},"y2":{"field":"g2"}}},{"mark":{"type":"area","style":"h","fill":"#62b52f"},"encoding":{"x":{"field":"c","type":"quantitative"},"y":{"field":"n","type":"quantitative"}}},{"mark":{"type":"rule","style":"g"},"encoding":{"x":{"field":"a","type":"quantitative"},"x2":{"field":"b"},"y":{"field":"h","type":"quantitative"}}},{"mark":{"type":"text","style":"t"},"encoding":{"x":{"field":"p","type":"quantitative"},"y":{"field":"q","type":"quantitative"},"text":{"field":"t"}}}]},
{"data":{"values":[{"c":50,"n":0},{"c":58,"n":48},{"c":90,"n":30},{"c":125,"n":15},{"c":165,"n":25},{"c":205,"n":55},{"c":240,"n":100},{"c":260,"n":75},{"c":300,"n":48},{"c":350,"n":30},{"c":400,"n":22},{"c":450,"n":12},{"c":500,"n":3},{"c":530,"n":0},{"f":0,"f2":1000,"g":0,"g2":100},{"a":36,"b":142,"h":48},{"a":204,"b":296,"h":76},{"a":307,"b":387,"h":62},{"a":398,"b":482,"h":72},{"p":135,"q":53,"t":"Sub-G1"},{"p":288,"q":82,"t":"G0/G1"},{"p":361,"q":68,"t":"S"},{"p":482,"q":77,"t":"G2/M"},{"p":577,"q":90,"k":"s","t":"Sub-G1: 24.8%"},{"p":577,"q":79,"k":"s","t":"G0/G1: 93.4%"},{"p":591,"q":66,"k":"s","t":"S: 0.14%"},{"p":599,"q":56,"k":"s","t":"G2/M: 6.49%"},{"p":580,"q":108,"k":"t","t":"36 h-DSF/Cu"}]},"layer":[{"mark":{"type":"rect","style":"f","fill":"transparent"},"encoding":{"x":{"field":"f","type":"quantitative","scale":{"domain":[0,1000],"range":[235,327]}},"x2":{"field":"f2"},"y":{"field":"g","type":"quantitative","scale":{"domain":[0,100],"range":[393,331]}},"y2":{"field":"g2"}}},{"mark":{"type":"area","style":"h","fill":"#62b52f"},"encoding":{"x":{"field":"c","type":"quantitative"},"y":{"field":"n","type":"quantitative"}}},{"mark":{"type":"rule","style":"g"},"encoding":{"x":{"field":"a","type":"quantitative"},"x2":{"field":"b"},"y":{"field":"h","type":"quantitative"}}},{"mark":{"type":"text","style":"t"},"encoding":{"x":{"field":"p","type":"quantitative"},"y":{"field":"q","type":"quantitative"},"text":{"field":"t"}}}]},

{"data":{"values":[{"c":150,"n":0},{"c":170,"n":3},{"c":190,"n":35},{"c":205,"n":100},{"c":212,"n":100},{"c":225,"n":60},{"c":240,"n":12},{"c":265,"n":3},{"c":300,"n":3},{"c":340,"n":4},{"c":380,"n":6},{"c":410,"n":4},{"c":440,"n":0},{"f":0,"f2":1000,"g":0,"g2":100},{"a":36,"b":142,"h":13},{"a":182,"b":263,"h":63},{"a":299,"b":383,"h":17},{"a":391,"b":474,"h":28},{"p":142,"q":18,"t":"Sub-G1"},{"p":274,"q":70,"t":"G0/G1"},{"p":361,"q":22,"t":"S"},{"p":474,"q":33,"t":"G2/M"},{"p":609,"q":90,"k":"s","t":"Sub-G1: 0.0%"},{"p":609,"q":78,"k":"s","t":"G0/G1: 86.3%"},{"p":609,"q":66,"k":"s","t":"S: 9.04%"},{"p":609,"q":56,"k":"s","t":"G2/M: 4.65%"},{"p":489,"q":110,"k":"t","t":"12 h-Control"}]},"layer":[{"mark":{"type":"rect","style":"f","fill":"transparent"},"encoding":{"x":{"field":"f","type":"quantitative","scale":{"domain":[0,1000],"range":[19,111]}},"x2":{"field":"f2"},"y":{"field":"g","type":"quantitative","scale":{"domain":[0,100],"range":[546,483]}},"y2":{"field":"g2"}}},{"mark":{"type":"area","style":"h","fill":"#62b52f"},"encoding":{"x":{"field":"c","type":"quantitative"},"y":{"field":"n","type":"quantitative"}}},{"mark":{"type":"rule","style":"g"},"encoding":{"x":{"field":"a","type":"quantitative"},"x2":{"field":"b"},"y":{"field":"h","type":"quantitative"}}},{"mark":{"type":"text","style":"t"},"encoding":{"x":{"field":"p","type":"quantitative"},"y":{"field":"q","type":"quantitative"},"text":{"field":"t"}}}]},
{"data":{"values":[{"c":150,"n":0},{"c":168,"n":3},{"c":185,"n":35},{"c":200,"n":100},{"c":212,"n":100},{"c":225,"n":60},{"c":240,"n":12},{"c":265,"n":3},{"c":300,"n":3},{"c":340,"n":5},{"c":380,"n":6},{"c":410,"n":4},{"c":440,"n":0},{"f":0,"f2":1000,"g":0,"g2":100},{"a":11,"b":110,"h":13},{"a":183,"b":267,"h":63},{"a":275,"b":359,"h":17},{"a":341,"b":421,"h":28},{"p":114,"q":18,"t":"Sub-G1"},{"p":275,"q":70,"t":"G0/G1"},{"p":297,"q":22,"t":"S"},{"p":421,"q":33,"t":"G2/M"},{"p":553,"q":90,"k":"s","t":"Sub-G1: 0.0%"},{"p":553,"q":78,"k":"s","t":"G0/G1: 86.4%"},{"p":553,"q":66,"k":"s","t":"S: 8.78%"},{"p":553,"q":56,"k":"s","t":"G2/M: 4.8%"},{"p":634,"q":110,"k":"t","t":"12 h-Cu"}]},"layer":[{"mark":{"type":"rect","style":"f","fill":"transparent"},"encoding":{"x":{"field":"f","type":"quantitative","scale":{"domain":[0,1000],"range":[127,218]}},"x2":{"field":"f2"},"y":{"field":"g","type":"quantitative","scale":{"domain":[0,100],"range":[546,483]}},"y2":{"field":"g2"}}},{"mark":{"type":"area","style":"h","fill":"#62b52f"},"encoding":{"x":{"field":"c","type":"quantitative"},"y":{"field":"n","type":"quantitative"}}},{"mark":{"type":"rule","style":"g"},"encoding":{"x":{"field":"a","type":"quantitative"},"x2":{"field":"b"},"y":{"field":"h","type":"quantitative"}}},{"mark":{"type":"text","style":"t"},"encoding":{"x":{"field":"p","type":"quantitative"},"y":{"field":"q","type":"quantitative"},"text":{"field":"t"}}}]},
{"data":{"values":[{"c":140,"n":0},{"c":160,"n":5},{"c":185,"n":50},{"c":198,"n":100},{"c":215,"n":100},{"c":228,"n":45},{"c":245,"n":15},{"c":270,"n":8},{"c":310,"n":7},{"c":345,"n":9},{"c":370,"n":11},{"c":395,"n":6},{"c":430,"n":0},{"f":0,"f2":1000,"g":0,"g2":100},{"a":55,"b":164,"h":14},{"a":175,"b":262,"h":64},{"a":291,"b":375,"h":19},{"a":382,"b":465,"h":29},{"p":116,"q":19,"t":"Sub-G1"},{"p":273,"q":71,"t":"G0/G1"},{"p":338,"q":24,"t":"S"},{"p":465,"q":34,"t":"G2/M"},{"p":564,"q":92,"k":"s","t":"Sub-G1: 0.5%"},{"p":564,"q":80,"k":"s","t":"G0/G1: 74.4%"},{"p":564,"q":68,"k":"s","t":"S: 18.5%"},{"p":564,"q":57,"k":"s","t":"G2/M: 7.08%"},{"p":575,"q":111,"k":"t","t":"12 h-DSF"}]},"layer":[{"mark":{"type":"rect","style":"f","fill":"transparent"},"encoding":{"x":{"field":"f","type":"quantitative","scale":{"domain":[0,1000],"range":[233,325]}},"x2":{"field":"f2"},"y":{"field":"g","type":"quantitative","scale":{"domain":[0,100],"range":[547,484]}},"y2":{"field":"g2"}}},{"mark":{"type":"area","style":"h","fill":"#62b52f"},"encoding":{"x":{"field":"c","type":"quantitative"},"y":{"field":"n","type":"quantitative"}}},{"mark":{"type":"rule","style":"g"},"encoding":{"x":{"field":"a","type":"quantitative"},"x2":{"field":"b"},"y":{"field":"h","type":"quantitative"}}},{"mark":{"type":"text","style":"t"},"encoding":{"x":{"field":"p","type":"quantitative"},"y":{"field":"q","type":"quantitative"},"text":{"field":"t"}}}]},
{"data":{"values":[{"c":150,"n":0},{"c":170,"n":4},{"c":185,"n":40},{"c":200,"n":100},{"c":215,"n":100},{"c":228,"n":50},{"c":245,"n":12},{"c":270,"n":6},{"c":310,"n":6},{"c":350,"n":7},{"c":370,"n":8},{"c":395,"n":4},{"c":420,"n":0},{"f":0,"f2":1000,"g":0,"g2":100},{"a":26,"b":128,"h":14},{"a":142,"b":226,"h":64},{"a":288,"b":372,"h":18},{"a":390,"b":471,"h":29},{"p":135,"q":18,"t":"Sub-G1"},{"p":318,"q":71,"t":"G0/G1"},{"p":354,"q":24,"t":"S"},{"p":474,"q":34,"t":"G2/M"},{"p":566,"q":91,"k":"s","t":"Sub-G1: 1.3%"},{"p":566,"q":79,"k":"s","t":"G0/G1: 77.3%"},{"p":566,"q":68,"k":"s","t":"S: 19.1%"},{"p":566,"q":56,"k":"s","t":"G2/M: 3.58%"},{"p":555,"q":112,"k":"t","t":"12 h-DSF/Cu"}]},"layer":[{"mark":{"type":"rect","style":"f","fill":"transparent"},"encoding":{"x":{"field":"f","type":"quantitative","scale":{"domain":[0,1000],"range":[339,431]}},"x2":{"field":"f2"},"y":{"field":"g","type":"quantitative","scale":{"domain":[0,100],"range":[547,485]}},"y2":{"field":"g2"}}},{"mark":{"type":"area","style":"h","fill":"#62b52f"},"encoding":{"x":{"field":"c","type":"quantitative"},"y":{"field":"n","type":"quantitative"}}},{"mark":{"type":"rule","style":"g"},"encoding":{"x":{"field":"a","type":"quantitative"},"x2":{"field":"b"},"y":{"field":"h","type":"quantitative"}}},{"mark":{"type":"text","style":"t"},"encoding":{"x":{"field":"p","type":"quantitative"},"y":{"field":"q","type":"quantitative"},"text":{"field":"t"}}}]},
{"data":{"values":[{"c":40,"n":0},{"c":60,"n":3},{"c":85,"n":1},{"c":150,"n":1},{"c":190,"n":4},{"c":215,"n":35},{"c":235,"n":100},{"c":250,"n":100},{"c":265,"n":35},{"c":285,"n":9},{"c":330,"n":6},{"c":380,"n":6},{"c":430,"n":8},{"c":455,"n":6},{"c":480,"n":0},{"f":0,"f2":1000,"g":0,"g2":100},{"a":36,"b":126,"h":13},{"a":206,"b":285,"h":63},{"a":289,"b":368,"h":19},{"a":379,"b":459,"h":29},{"p":134,"q":19,"t":"Sub-G1"},{"p":278,"q":71,"t":"G0/G1"},{"p":350,"q":25,"t":"S"},{"p":459,"q":34,"t":"G2/M"},{"p":603,"q":91,"k":"s","t":"Sub-G1: 3.2%"},{"p":603,"q":79,"k":"s","t":"G0/G1: 71.6%"},{"p":603,"q":68,"k":"s","t":"S: 20.9%"},{"p":603,"q":57,"k":"s","t":"G2/M: 7.89%"},{"p":469,"q":108,"k":"t","t":"18 h-DSF/Cu"}]},"layer":[{"mark":{"type":"rect","style":"f","fill":"transparent"},"encoding":{"x":{"field":"f","type":"quantitative","scale":{"domain":[0,1000],"range":[19,112]}},"x2":{"field":"f2"},"y":{"field":"g","type":"quantitative","scale":{"domain":[0,100],"range":[628,565]}},"y2":{"field":"g2"}}},{"mark":{"type":"area","style":"h","fill":"#62b52f"},"encoding":{"x":{"field":"c","type":"quantitative"},"y":{"field":"n","type":"quantitative"}}},{"mark":{"type":"rule","style":"g"},"encoding":{"x":{"field":"a","type":"quantitative"},"x2":{"field":"b"},"y":{"field":"h","type":"quantitative"}}},{"mark":{"type":"text","style":"t"},"encoding":{"x":{"field":"p","type":"quantitative"},"y":{"field":"q","type":"quantitative"},"text":{"field":"t"}}}]},
{"data":{"values":[{"c":40,"n":0},{"c":50,"n":8},{"c":80,"n":5},{"c":130,"n":4},{"c":170,"n":8},{"c":200,"n":30},{"c":225,"n":80},{"c":242,"n":100},{"c":260,"n":70},{"c":280,"n":25},{"c":310,"n":10},{"c":350,"n":7},{"c":400,"n":6},{"c":450,"n":3},{"c":480,"n":0},{"f":0,"f2":1000,"g":0,"g2":100},{"a":40,"b":158,"h":43},{"a":212,"b":293,"h":64},{"a":304,"b":385,"h":24},{"a":385,"b":469,"h":33},{"p":150,"q":49,"t":"Sub-G1"},{"p":304,"q":71,"t":"G0/G1"},{"p":359,"q":29,"t":"S"},{"p":469,"q":39,"t":"G2/M"},{"p":582,"q":91,"k":"s","t":"Sub-G1:6.3%"},{"p":582,"q":79,"k":"s","t":"G0/G1: 86.1%"},{"p":582,"q":68,"k":"s","t":"S: 13.4%"},{"p":582,"q":57,"k":"s","t":"G2/M: 0.484%"},{"p":634,"q":108,"k":"t","t":"24 h-DSF/Cu"}]},"layer":[{"mark":{"type":"rect","style":"f","fill":"transparent"},"encoding":{"x":{"field":"f","type":"quantitative","scale":{"domain":[0,1000],"range":[127,218]}},"x2":{"field":"f2"},"y":{"field":"g","type":"quantitative","scale":{"domain":[0,100],"range":[628,565]}},"y2":{"field":"g2"}}},{"mark":{"type":"area","style":"h","fill":"#62b52f"},"encoding":{"x":{"field":"c","type":"quantitative"},"y":{"field":"n","type":"quantitative"}}},{"mark":{"type":"rule","style":"g"},"encoding":{"x":{"field":"a","type":"quantitative"},"x2":{"field":"b"},"y":{"field":"h","type":"quantitative"}}},{"mark":{"type":"text","style":"t"},"encoding":{"x":{"field":"p","type":"quantitative"},"y":{"field":"q","type":"quantitative"},"text":{"field":"t"}}}]},
{"data":{"values":[{"c":42,"n":0},{"c":47,"n":100},{"c":60,"n":80},{"c":85,"n":50},{"c":120,"n":35},{"c":150,"n":25},{"c":180,"n":18},{"c":200,"n":40},{"c":225,"n":88},{"c":240,"n":55},{"c":262,"n":20},{"c":300,"n":10},{"c":350,"n":7},{"c":410,"n":4},{"c":450,"n":0},{"f":0,"f2":1000,"g":0,"g2":100},{"a":58,"b":167,"h":31},{"a":200,"b":284,"h":65},{"a":291,"b":375,"h":20},{"a":393,"b":473,"h":30},{"p":164,"q":38,"t":"Sub-G1"},{"p":284,"q":71,"t":"G0/G1"},{"p":353,"q":25,"t":"S"},{"p":473,"q":35,"t":"G2/M"},{"p":556,"q":91,"k":"s","t":"Sub-G1: 55.7%"},{"p":556,"q":79,"k":"s","t":"G0/G1: 80.8%"},{"p":556,"q":68,"k":"s","t":"S: 15.8%"},{"p":556,"q":57,"k":"s","t":"G2/M: 3.38%"},{"p":564,"q":107,"k":"t","t":"36 h-DSF/Cu"}]},"layer":[{"mark":{"type":"rect","style":"f","fill":"transparent"},"encoding":{"x":{"field":"f","type":"quantitative","scale":{"domain":[0,1000],"range":[233,325]}},"x2":{"field":"f2"},"y":{"field":"g","type":"quantitative","scale":{"domain":[0,100],"range":[628,564]}},"y2":{"field":"g2"}}},{"mark":{"type":"area","style":"h","fill":"#62b52f"},"encoding":{"x":{"field":"c","type":"quantitative"},"y":{"field":"n","type":"quantitative"}}},{"mark":{"type":"rule","style":"g"},"encoding":{"x":{"field":"a","type":"quantitative"},"x2":{"field":"b"},"y":{"field":"h","type":"quantitative"}}},{"mark":{"type":"text","style":"t"},"encoding":{"x":{"field":"p","type":"quantitative"},"y":{"field":"q","type":"quantitative"},"text":{"field":"t"}}}]},

{"data":{"values":[{"c":30,"n":0},{"c":60,"n":1},{"c":170,"n":1},{"c":190,"n":20},{"c":220,"n":80},{"c":237,"n":100},{"c":250,"n":80},{"c":270,"n":20},{"c":290,"n":6},{"c":330,"n":6},{"c":380,"n":8},{"c":425,"n":13},{"c":450,"n":7},{"c":480,"n":1},{"c":500,"n":0},{"f":0,"f2":1000,"g":0,"g2":100},{"a":36,"b":142,"h":13},{"a":197,"b":285,"h":63},{"a":299,"b":383,"h":18},{"a":391,"b":474,"h":28},{"p":142,"q":21,"t":"Sub-G1"},{"p":281,"q":71,"t":"G0/G1"},{"p":354,"q":26,"t":"S"},{"p":474,"q":36,"t":"G2/M"},{"p":584,"q":91,"k":"s","t":"Sub-G1: 1.3%"},{"p":584,"q":79,"k":"s","t":"G0/G1: 69.2%"},{"p":584,"q":68,"k":"s","t":"S: 19.7%"},{"p":584,"q":57,"k":"s","t":"G2/M: 11.1%"},{"p":474,"q":109,"k":"t","t":"12 h-Control"}]},"layer":[{"mark":{"type":"rect","style":"f","fill":"transparent"},"encoding":{"x":{"field":"f","type":"quantitative","scale":{"domain":[0,1000],"range":[19,111]}},"x2":{"field":"f2"},"y":{"field":"g","type":"quantitative","scale":{"domain":[0,100],"range":[779,716]}},"y2":{"field":"g2"}}},{"mark":{"type":"area","style":"h","fill":"#62b52f"},"encoding":{"x":{"field":"c","type":"quantitative"},"y":{"field":"n","type":"quantitative"}}},{"mark":{"type":"rule","style":"g"},"encoding":{"x":{"field":"a","type":"quantitative"},"x2":{"field":"b"},"y":{"field":"h","type":"quantitative"}}},{"mark":{"type":"text","style":"t"},"encoding":{"x":{"field":"p","type":"quantitative"},"y":{"field":"q","type":"quantitative"},"text":{"field":"t"}}}]},
{"data":{"values":[{"c":30,"n":0},{"c":60,"n":1},{"c":165,"n":2},{"c":185,"n":25},{"c":210,"n":85},{"c":227,"n":100},{"c":240,"n":80},{"c":262,"n":20},{"c":285,"n":6},{"c":330,"n":7},{"c":380,"n":10},{"c":425,"n":17},{"c":450,"n":8},{"c":465,"n":1},{"c":480,"n":0},{"f":0,"f2":1000,"g":0,"g2":100},{"a":65,"b":165,"h":13},{"a":191,"b":281,"h":61},{"a":281,"b":378,"h":17},{"a":388,"b":471,"h":28},{"p":147,"q":20,"t":"Sub-G1"},{"p":252,"q":70,"t":"G0/G1"},{"p":317,"q":25,"t":"S"},{"p":450,"q":35,"t":"G2/M"},{"p":543,"q":90,"k":"s","t":"Sub-G1: 1.3%"},{"p":543,"q":78,"k":"s","t":"G0/G1: 64.8%"},{"p":543,"q":67,"k":"s","t":"S: 22%"},{"p":543,"q":56,"k":"s","t":"G2/M: 13.1%"},{"p":561,"q":108,"k":"t","t":"12 h-Cu"}]},"layer":[{"mark":{"type":"rect","style":"f","fill":"transparent"},"encoding":{"x":{"field":"f","type":"quantitative","scale":{"domain":[0,1000],"range":[124,217]}},"x2":{"field":"f2"},"y":{"field":"g","type":"quantitative","scale":{"domain":[0,100],"range":[779,715]}},"y2":{"field":"g2"}}},{"mark":{"type":"area","style":"h","fill":"#62b52f"},"encoding":{"x":{"field":"c","type":"quantitative"},"y":{"field":"n","type":"quantitative"}}},{"mark":{"type":"rule","style":"g"},"encoding":{"x":{"field":"a","type":"quantitative"},"x2":{"field":"b"},"y":{"field":"h","type":"quantitative"}}},{"mark":{"type":"text","style":"t"},"encoding":{"x":{"field":"p","type":"quantitative"},"y":{"field":"q","type":"quantitative"},"text":{"field":"t"}}}]},
{"data":{"values":[{"c":40,"n":0},{"c":80,"n":2},{"c":165,"n":1},{"c":180,"n":20},{"c":208,"n":85},{"c":225,"n":100},{"c":240,"n":75},{"c":258,"n":15},{"c":285,"n":6},{"c":330,"n":6},{"c":370,"n":8},{"c":405,"n":10},{"c":430,"n":6},{"c":460,"n":0},{"f":0,"f2":1000,"g":0,"g2":100},{"a":109,"b":218,"h":13},{"a":236,"b":327,"h":62},{"a":338,"b":429,"h":18},{"a":436,"b":527,"h":28},{"p":182,"q":21,"t":"Sub-G1"},{"p":309,"q":70,"t":"G0/G1"},{"p":371,"q":26,"t":"S"},{"p":498,"q":35,"t":"G2/M"},{"p":538,"q":90,"k":"s","t":"Sub-G1: 1.7%"},{"p":538,"q":78,"k":"s","t":"G0/G1: 68%"},{"p":538,"q":67,"k":"s","t":"S: 21.6%"},{"p":538,"q":56,"k":"s","t":"G2/M: 10.4%"},{"p":575,"q":109,"k":"t","t":"12 h-DSF"}]},"layer":[{"mark":{"type":"rect","style":"f","fill":"transparent"},"encoding":{"x":{"field":"f","type":"quantitative","scale":{"domain":[0,1000],"range":[232,323]}},"x2":{"field":"f2"},"y":{"field":"g","type":"quantitative","scale":{"domain":[0,100],"range":[779,716]}},"y2":{"field":"g2"}}},{"mark":{"type":"area","style":"h","fill":"#62b52f"},"encoding":{"x":{"field":"c","type":"quantitative"},"y":{"field":"n","type":"quantitative"}}},{"mark":{"type":"rule","style":"g"},"encoding":{"x":{"field":"a","type":"quantitative"},"x2":{"field":"b"},"y":{"field":"h","type":"quantitative"}}},{"mark":{"type":"text","style":"t"},"encoding":{"x":{"field":"p","type":"quantitative"},"y":{"field":"q","type":"quantitative"},"text":{"field":"t"}}}]},
{"data":{"values":[{"c":30,"n":0},{"c":70,"n":1},{"c":160,"n":1},{"c":175,"n":25},{"c":200,"n":85},{"c":219,"n":100},{"c":232,"n":70},{"c":250,"n":15},{"c":275,"n":7},{"c":320,"n":8},{"c":370,"n":10},{"c":410,"n":13},{"c":430,"n":6},{"c":455,"n":0},{"f":0,"f2":1000,"g":0,"g2":100},{"a":80,"b":190,"h":14},{"a":208,"b":299,"h":62},{"a":310,"b":398,"h":18},{"a":420,"b":500,"h":28},{"p":153,"q":21,"t":"Sub-G1"},{"p":263,"q":70,"t":"G0/G1"},{"p":328,"q":26,"t":"S"},{"p":456,"q":36,"t":"G2/M"},{"p":526,"q":92,"k":"s","t":"Sub-G1: 1.7%"},{"p":526,"q":80,"k":"s","t":"G0/G1: 62%"},{"p":526,"q":69,"k":"s","t":"S: 25.2%"},{"p":526,"q":58,"k":"s","t":"G2/M: 12.8%"},{"p":562,"q":109,"k":"t","t":"12 h-DSF/Cu"}]},"layer":[{"mark":{"type":"rect","style":"f","fill":"transparent"},"encoding":{"x":{"field":"f","type":"quantitative","scale":{"domain":[0,1000],"range":[339,431]}},"x2":{"field":"f2"},"y":{"field":"g","type":"quantitative","scale":{"domain":[0,100],"range":[779,716]}},"y2":{"field":"g2"}}},{"mark":{"type":"area","style":"h","fill":"#62b52f"},"encoding":{"x":{"field":"c","type":"quantitative"},"y":{"field":"n","type":"quantitative"}}},{"mark":{"type":"rule","style":"g"},"encoding":{"x":{"field":"a","type":"quantitative"},"x2":{"field":"b"},"y":{"field":"h","type":"quantitative"}}},{"mark":{"type":"text","style":"t"},"encoding":{"x":{"field":"p","type":"quantitative"},"y":{"field":"q","type":"quantitative"},"text":{"field":"t"}}}]},
{"data":{"values":[{"c":30,"n":0},{"c":50,"n":3},{"c":100,"n":2},{"c":160,"n":3},{"c":185,"n":25},{"c":210,"n":85},{"c":226,"n":100},{"c":240,"n":70},{"c":260,"n":15},{"c":290,"n":7},{"c":340,"n":7},{"c":390,"n":9},{"c":428,"n":13},{"c":450,"n":8},{"c":480,"n":0},{"f":0,"f2":1000,"g":0,"g2":100},{"a":26,"b":135,"h":13},{"a":190,"b":274,"h":63},{"a":288,"b":372,"h":18},{"a":383,"b":464,"h":28},{"p":135,"q":24,"t":"Sub-G1"},{"p":274,"q":74,"t":"G0/G1"},{"p":354,"q":28,"t":"S"},{"p":464,"q":38,"t":"G2/M"},{"p":580,"q":94,"k":"s","t":"Sub-G1: 5.7%"},{"p":580,"q":83,"k":"s","t":"G0/G1: 64.9%"},{"p":580,"q":71,"k":"s","t":"S: 25.5%"},{"p":580,"q":60,"k":"s","t":"G2/M: 9.56%"},{"p":482,"q":112,"k":"t","t":"18 h-DSF/Cu"}]},"layer":[{"mark":{"type":"rect","style":"f","fill":"transparent"},"encoding":{"x":{"field":"f","type":"quantitative","scale":{"domain":[0,1000],"range":[19,111]}},"x2":{"field":"f2"},"y":{"field":"g","type":"quantitative","scale":{"domain":[0,100],"range":[862,798]}},"y2":{"field":"g2"}}},{"mark":{"type":"area","style":"h","fill":"#62b52f"},"encoding":{"x":{"field":"c","type":"quantitative"},"y":{"field":"n","type":"quantitative"}}},{"mark":{"type":"rule","style":"g"},"encoding":{"x":{"field":"a","type":"quantitative"},"x2":{"field":"b"},"y":{"field":"h","type":"quantitative"}}},{"mark":{"type":"text","style":"t"},"encoding":{"x":{"field":"p","type":"quantitative"},"y":{"field":"q","type":"quantitative"},"text":{"field":"t"}}}]},
{"data":{"values":[{"c":42,"n":0},{"c":48,"n":27},{"c":70,"n":15},{"c":110,"n":9},{"c":160,"n":8},{"c":190,"n":20},{"c":212,"n":85},{"c":227,"n":100},{"c":240,"n":70},{"c":258,"n":18},{"c":290,"n":9},{"c":340,"n":9},{"c":400,"n":13},{"c":440,"n":9},{"c":470,"n":4},{"c":510,"n":0},{"f":0,"f2":1000,"g":0,"g2":100},{"a":18,"b":126,"h":43},{"a":191,"b":270,"h":63},{"a":263,"b":353,"h":23},{"a":353,"b":442,"h":33},{"p":112,"q":52,"t":"Sub-G1"},{"p":252,"q":74,"t":"G0/G1"},{"p":309,"q":47,"t":"S"},{"p":424,"q":43,"t":"G2/M"},{"p":540,"q":94,"k":"s","t":"Sub-G1: 17.4%"},{"p":540,"q":82,"k":"s","t":"G0/G1: 66.3%"},{"p":540,"q":71,"k":"s","t":"S: 24.3%"},{"p":540,"q":60,"k":"s","t":"G2/M: 9.35%"},{"p":604,"q":112,"k":"t","t":"24 h-DSF/Cu"}]},"layer":[{"mark":{"type":"rect","style":"f","fill":"transparent"},"encoding":{"x":{"field":"f","type":"quantitative","scale":{"domain":[0,1000],"range":[124,217]}},"x2":{"field":"f2"},"y":{"field":"g","type":"quantitative","scale":{"domain":[0,100],"range":[861,798]}},"y2":{"field":"g2"}}},{"mark":{"type":"area","style":"h","fill":"#62b52f"},"encoding":{"x":{"field":"c","type":"quantitative"},"y":{"field":"n","type":"quantitative"}}},{"mark":{"type":"rule","style":"g"},"encoding":{"x":{"field":"a","type":"quantitative"},"x2":{"field":"b"},"y":{"field":"h","type":"quantitative"}}},{"mark":{"type":"text","style":"t"},"encoding":{"x":{"field":"p","type":"quantitative"},"y":{"field":"q","type":"quantitative"},"text":{"field":"t"}}}]},
{"data":{"values":[{"c":30,"n":0},{"c":38,"n":32},{"c":60,"n":22},{"c":90,"n":12},{"c":140,"n":9},{"c":175,"n":22},{"c":205,"n":85},{"c":225,"n":100},{"c":240,"n":65},{"c":258,"n":15},{"c":295,"n":7},{"c":340,"n":5},{"c":390,"n":3},{"c":430,"n":0},{"f":0,"f2":1000,"g":0,"g2":100},{"a":11,"b":120,"h":27},{"a":182,"b":273,"h":62},{"a":280,"b":371,"h":17},{"a":382,"b":473,"h":27},{"p":91,"q":37,"t":"Sub-G1"},{"p":236,"q":73,"t":"G0/G1"},{"p":309,"q":27,"t":"S"},{"p":436,"q":37,"t":"G2/M"},{"p":516,"q":93,"k":"s","t":"Sub-G1: 28.1%"},{"p":516,"q":82,"k":"s","t":"G0/G1: 78.5%"},{"p":516,"q":70,"k":"s","t":"S: 20.1%"},{"p":516,"q":59,"k":"s","t":"G2/M: 1.45%"},{"p":564,"q":110,"k":"t","t":"36 h-DSF/Cu"}]},"layer":[{"mark":{"type":"rect","style":"f","fill":"transparent"},"encoding":{"x":{"field":"f","type":"quantitative","scale":{"domain":[0,1000],"range":[232,323]}},"x2":{"field":"f2"},"y":{"field":"g","type":"quantitative","scale":{"domain":[0,100],"range":[861,797]}},"y2":{"field":"g2"}}},{"mark":{"type":"area","style":"h","fill":"#62b52f"},"encoding":{"x":{"field":"c","type":"quantitative"},"y":{"field":"n","type":"quantitative"}}},{"mark":{"type":"rule","style":"g"},"encoding":{"x":{"field":"a","type":"quantitative"},"x2":{"field":"b"},"y":{"field":"h","type":"quantitative"}}},{"mark":{"type":"text","style":"t"},"encoding":{"x":{"field":"p","type":"quantitative"},"y":{"field":"q","type":"quantitative"},"text":{"field":"t"}}}]},

{"data":{"name":"ba"},"transform":[{"fold":["a","b","c"],"as":["k","v"]}],"mark":{"type":"bar","stroke":"#333","strokeWidth":0.4},"encoding":{"x":{"field":"x","type":"nominal","scale":{"type":"band","domain":["12 h-Control","12 h-Cu","12 h-DSF","12 h-DSF/Cu"," ","18 h-Control","18 h-Cu","18 h-DSF","18 h-DSF/Cu","  ","24 h-Control","24 h-Cu","24 h-DSF","24 h-DSF/Cu","   ","36 h-Control","36 h-Cu","36 h-DSF","36 h-DSF/Cu"],"range":[512,683],"paddingInner":0.35,"paddingOuter":0.39},"axis":{"disable":false,"orient":"bottom","offset":-753,"title":null,"labelAngle":270,"labelFontSize":10,"labelPadding":2,"tickSize":3}},"y":{"field":"v","type":"quantitative","stack":"zero","scale":{"domain":[0,120],"range":[142,22]},"axis":{"disable":false,"orient":"left","offset":-512,"values":[0,20,40,60,80,100,120],"title":"Cell cycle distribution (%)","titleFontSize":11,"labelFontSize":9,"tickSize":3,"labelPadding":1,"titleX":-21}},"color":{"field":"k","type":"nominal","scale":{"domain":["a","b","c"],"range":["#000000","#0a7a0a","#808080"]},"legend":{"orient":"none","legendX":526,"legendY":19,"direction":"horizontal","columns":3,"columnPadding":14,"title":null,"labelFontSize":9.5,"labelOffset":5,"symbolType":"M-.5,-.15H.5V.15H-.5Z","symbolSize":250,"labelExpr":"{a:'G0/G1',b:'S',c:'G2/M'}[datum.label]"}},"order":{"field":"k"}}},
{"data":{"name":"bb"},"transform":[{"fold":["a","b","c"],"as":["k","v"]}],"mark":{"type":"bar","stroke":"#333","strokeWidth":0.4},"encoding":{"x":{"field":"x","type":"nominal","scale":{"type":"band","domain":["12 h-Control","12 h-Cu","12 h-DSF","12 h-DSF/Cu"," ","18 h-Control","18 h-Cu","18 h-DSF","18 h-DSF/Cu","  ","24 h-Control","24 h-Cu","24 h-DSF","24 h-DSF/Cu","   ","36 h-Control","36 h-Cu","36 h-DSF","36 h-DSF/Cu"],"range":[518,684],"paddingInner":0.35,"paddingOuter":0.34},"axis":{"disable":false,"orient":"bottom","offset":-526,"title":null,"labelAngle":270,"labelFontSize":10,"labelPadding":2,"tickSize":3}},"y":{"field":"v","type":"quantitative","stack":"zero","scale":{"domain":[0,120],"range":[369,250]},"axis":{"disable":false,"orient":"left","offset":-518,"values":[0,20,40,60,80,100,120],"title":"Cell cycle distribution (%)","titleFontSize":11,"labelFontSize":9,"tickSize":3,"labelPadding":1,"titleX":-21}},"color":{"field":"k","type":"nominal","scale":{"domain":["a","b","c"],"range":["#000000","#0a7a0a","#808080"]},"legend":{"orient":"none","legendX":531,"legendY":247,"direction":"horizontal","columns":3,"columnPadding":14,"title":null,"labelFontSize":9.5,"labelOffset":5,"symbolType":"M-.5,-.15H.5V.15H-.5Z","symbolSize":250,"labelExpr":"{a:'G0/G1',b:'S',c:'G2/M'}[datum.label]"}},"order":{"field":"k"}}},
{"data":{"name":"bc"},"transform":[{"fold":["a","b","c"],"as":["k","v"]}],"mark":{"type":"bar","stroke":"#333","strokeWidth":0.4},"encoding":{"x":{"field":"x","type":"nominal","scale":{"type":"band","domain":["12 h-Control","12 h-Cu","12 h-DSF","12 h-DSF/Cu"," ","18 h-Control","18 h-Cu","18 h-DSF","18 h-DSF/Cu","  ","24 h-Control","24 h-Cu","24 h-DSF","24 h-DSF/Cu","   ","36 h-Control","36 h-Cu","36 h-DSF","36 h-DSF/Cu"],"range":[519,684],"paddingInner":0.35,"paddingOuter":0.34},"axis":{"disable":false,"orient":"bottom","offset":-293,"title":null,"labelAngle":270,"labelFontSize":10,"labelPadding":2,"tickSize":3}},"y":{"field":"v","type":"quantitative","stack":"zero","scale":{"domain":[0,120],"range":[602,486]},"axis":{"disable":false,"orient":"left","offset":-519,"values":[0,20,40,60,80,100,120],"title":"Cell cycle distribution (%)","titleFontSize":11,"labelFontSize":9,"tickSize":3,"labelPadding":1,"titleX":-21}},"color":{"field":"k","type":"nominal","scale":{"domain":["a","b","c"],"range":["#000000","#0a7a0a","#808080"]},"legend":{"orient":"none","legendX":532,"legendY":484,"direction":"horizontal","columns":3,"columnPadding":14,"title":null,"labelFontSize":9.5,"labelOffset":5,"symbolType":"M-.5,-.15H.5V.15H-.5Z","symbolSize":250,"labelExpr":"{a:'G0/G1',b:'S',c:'G2/M'}[datum.label]"}},"order":{"field":"k"}}},
{"data":{"name":"bd"},"transform":[{"fold":["a","b","c"],"as":["k","v"]}],"mark":{"type":"bar","stroke":"#333","strokeWidth":0.4},"encoding":{"x":{"field":"x","type":"nominal","scale":{"type":"band","domain":["12 h-Control","12 h-Cu","12 h-DSF","12 h-DSF/Cu"," ","18 h-Control","18 h-Cu","18 h-DSF","18 h-DSF/Cu","  ","24 h-Control","24 h-Cu","24 h-DSF","24 h-DSF/Cu","   ","36 h-Control","36 h-Cu","36 h-DSF","36 h-DSF/Cu"],"range":[518,682],"paddingInner":0.35,"paddingOuter":0.34},"axis":{"disable":false,"orient":"bottom","offset":-62,"title":null,"labelAngle":270,"labelFontSize":10,"labelPadding":2,"tickSize":3}},"y":{"field":"v","type":"quantitative","stack":"zero","scale":{"domain":[0,120],"range":[833,715]},"axis":{"disable":false,"orient":"left","offset":-518,"values":[0,20,40,60,80,100,120],"title":"Cell cycle distribution (%)","titleFontSize":11,"labelFontSize":9,"tickSize":3,"labelPadding":1,"titleX":-21}},"color":{"field":"k","type":"nominal","scale":{"domain":["a","b","c"],"range":["#000000","#0a7a0a","#808080"]},"legend":{"orient":"none","legendX":530,"legendY":712,"direction":"horizontal","columns":3,"columnPadding":14,"title":null,"labelFontSize":9.5,"labelOffset":5,"symbolType":"M-.5,-.15H.5V.15H-.5Z","symbolSize":250,"labelExpr":"{a:'G0/G1',b:'S',c:'G2/M'}[datum.label]"}},"order":{"field":"k"}}},

{"data":{"values":[{"h":0,"Control":0,"Cu":0,"DSF":0,"DSF/Cu":0},{"h":12,"Control":1,"Cu":1,"DSF":1,"DSF/Cu":1},{"h":18,"Control":1,"Cu":0.8,"DSF":8.5,"DSF/Cu":15},{"h":24,"Control":1,"Cu":1,"DSF":12,"DSF/Cu":34},{"h":36,"Control":2,"Cu":1.5,"DSF":17,"DSF/Cu":48}]},"transform":[{"fold":["DSF/Cu","DSF","Cu","Control"],"as":["k","v"]}],"mark":{"type":"line","strokeWidth":1,"point":{"filled":true,"size":8}},"encoding":{"x":{"field":"h","type":"ordinal","scale":{"type":"point","domain":[0,12,18,24,36],"range":[349,427]},"axis":{"disable":false,"orient":"bottom","offset":-722,"title":null,"labelAngle":0,"labelFontSize":5,"tickSize":2,"labelPadding":2,"domainColor":"#666"}},"y":{"field":"v","type":"quantitative","scale":{"domain":[0,60],"range":[173,108]},"axis":{"disable":false,"orient":"left","offset":-349,"values":[0,20,40,60],"title":"Sub-G1(%)","titleFontSize":7,"labelFontSize":5,"tickSize":2,"labelPadding":1,"titleX":-11}},"color":{"field":"k","type":"nominal","scale":{"domain":["Control","Cu","DSF","DSF/Cu"],"range":["#e8352a","#72bf44","#2a5caa","#b48ed0"]},"legend":{"orient":"none","legendX":355,"legendY":105,"title":null,"labelFontSize":6,"rowPadding":1,"labelOffset":4,"symbolType":"M-.5,0H.5M-.12,-.12H.12V.12H-.12Z","symbolSize":64,"symbolStrokeWidth":1}}}},
{"data":{"values":[{"a":0,"b":25,"h":0},{"l":12,"m":0,"m2":17},{"l":30,"m":0,"m2":48},{"p":21,"q":8.5,"t":"****"},{"p":40,"q":26,"t":"****"},{"p2":25,"q2":-5.5,"t2":"(h)"}]},"layer":[{"mark":{"type":"rule","style":"w"},"encoding":{"x":{"field":"a","type":"quantitative","scale":{"domain":[0,100],"range":[427,467]}},"x2":{"field":"b"},"y":{"field":"h","type":"quantitative","scale":{"domain":[0,60],"range":[173,108]}}}},{"mark":{"type":"rule","style":"v"},"encoding":{"x":{"field":"l","type":"quantitative"},"y":{"field":"m","type":"quantitative"},"y2":{"field":"m2"}}},{"mark":{"type":"text","style":"z"},"encoding":{"x":{"field":"p","type":"quantitative"},"y":{"field":"q","type":"quantitative"},"text":{"field":"t"}}},{"mark":{"type":"text","style":"t"},"encoding":{"x":{"field":"p2","type":"quantitative"},"y":{"field":"q2","type":"quantitative"},"text":{"field":"t2"}}}]},

{"data":{"values":[{"h":0,"Control":0,"Cu":0,"DSF":0,"DSF/Cu":0},{"h":12,"Control":9,"Cu":9,"DSF":11,"DSF/Cu":12},{"h":18,"Control":9,"Cu":9,"DSF":13.5,"DSF/Cu":24.5},{"h":24,"Control":10,"Cu":8.3,"DSF":25.5,"DSF/Cu":28},{"h":36,"Control":11,"Cu":9,"DSF":27,"DSF/Cu":30}]},"transform":[{"fold":["DSF/Cu","DSF","Cu","Control"],"as":["k","v"]}],"mark":{"type":"line","strokeWidth":1,"point":{"filled":true,"size":8}},"encoding":{"x":{"field":"h","type":"ordinal","scale":{"type":"point","domain":[0,12,18,24,36],"range":[351,432]},"axis":{"disable":false,"orient":"bottom","offset":-494,"title":null,"labelAngle":0,"labelFontSize":5,"tickSize":2,"labelPadding":2,"domainColor":"#666"}},"y":{"field":"v","type":"quantitative","scale":{"domain":[0,40],"range":[401,342]},"axis":{"disable":false,"orient":"left","offset":-351,"values":[0,10,20,30,40],"title":"Sub-G1(%)","titleFontSize":7,"labelFontSize":5,"tickSize":2,"labelPadding":1,"titleX":-11}},"color":{"field":"k","type":"nominal","scale":{"domain":["Control","Cu","DSF","DSF/Cu"],"range":["#e8352a","#72bf44","#2a5caa","#b48ed0"]},"legend":{"orient":"none","legendX":355,"legendY":332,"title":null,"labelFontSize":6,"rowPadding":2,"labelOffset":4,"symbolType":"M-.5,0H.5M-.12,-.12H.12V.12H-.12Z","symbolSize":64,"symbolStrokeWidth":1}}}},
{"data":{"values":[{"a":0,"b":20,"h":0},{"l":12,"m":9,"m2":11},{"l":12,"m":11.5,"m2":27},{"l":30,"m":9,"m2":30},{"p":22,"q":9.5,"t":"*"},{"p":22,"q":19,"t":"****"},{"p":40,"q":23,"t":"****"},{"p2":35,"q2":-5,"t2":"(h)"}]},"layer":[{"mark":{"type":"rule","style":"w"},"encoding":{"x":{"field":"a","type":"quantitative","scale":{"domain":[0,100],"range":[432,472]}},"x2":{"field":"b"},"y":{"field":"h","type":"quantitative","scale":{"domain":[0,40],"range":[401,342]}}}},{"mark":{"type":"rule","style":"v"},"encoding":{"x":{"field":"l","type":"quantitative"},"y":{"field":"m","type":"quantitative"},"y2":{"field":"m2"}}},{"mark":{"type":"text","style":"z"},"encoding":{"x":{"field":"p","type":"quantitative"},"y":{"field":"q","type":"quantitative"},"text":{"field":"t"}}},{"mark":{"type":"text","style":"t"},"encoding":{"x":{"field":"p2","type":"quantitative"},"y":{"field":"q2","type":"quantitative"},"text":{"field":"t2"}}}]},

{"data":{"values":[{"h":0,"Control":0,"Cu":0,"DSF":0,"DSF/Cu":0},{"h":12,"Control":0.5,"Cu":0.5,"DSF":1,"DSF/Cu":2},{"h":18,"Control":1,"Cu":1,"DSF":2,"DSF/Cu":3},{"h":24,"Control":2,"Cu":2,"DSF":5,"DSF/Cu":18},{"h":36,"Control":2,"Cu":2,"DSF":16,"DSF/Cu":57}]},"transform":[{"fold":["DSF/Cu","DSF","Cu","Control"],"as":["k","v"]}],"mark":{"type":"line","strokeWidth":1,"point":{"filled":true,"size":8}},"encoding":{"x":{"field":"h","type":"ordinal","scale":{"type":"point","domain":[0,12,18,24,36],"range":[351,433]},"axis":{"disable":false,"orient":"bottom","offset":-261,"title":null,"labelAngle":0,"labelFontSize":5,"tickSize":2,"labelPadding":2,"domainColor":"#666"}},"y":{"field":"v","type":"quantitative","scale":{"domain":[0,60],"range":[634,574]},"axis":{"disable":false,"orient":"left","offset":-351,"values":[0,20,40,60],"title":"Sub-G1(%)","titleFontSize":7,"labelFontSize":5,"tickSize":2,"labelPadding":1,"titleX":-11}},"color":{"field":"k","type":"nominal","scale":{"domain":["Control","Cu","DSF","DSF/Cu"],"range":["#e8352a","#72bf44","#2a5caa","#b48ed0"]},"legend":{"orient":"none","legendX":357,"legendY":570,"title":null,"labelFontSize":6,"rowPadding":3,"labelOffset":4,"symbolType":"M-.5,0H.5M-.12,-.12H.12V.12H-.12Z","symbolSize":64,"symbolStrokeWidth":1}}}},
{"data":{"values":[{"a":0,"b":18,"h":0},{"l":20,"m":1,"m2":16},{"l":38,"m":2,"m2":57},{"p":30,"q":8,"t":"****"},{"p":50,"q":32,"t":"****"},{"p2":30,"q2":-8,"t2":"(h)"}]},"layer":[{"mark":{"type":"rule","style":"w"},"encoding":{"x":{"field":"a","type":"quantitative","scale":{"domain":[0,100],"range":[433,473]}},"x2":{"field":"b"},"y":{"field":"h","type":"quantitative","scale":{"domain":[0,60],"range":[634,574]}}}},{"mark":{"type":"rule","style":"v"},"encoding":{"x":{"field":"l","type":"quantitative"},"y":{"field":"m","type":"quantitative"},"y2":{"field":"m2"}}},{"mark":{"type":"text","style":"z"},"encoding":{"x":{"field":"p","type":"quantitative"},"y":{"field":"q","type":"quantitative"},"text":{"field":"t"}}},{"mark":{"type":"text","style":"t"},"encoding":{"x":{"field":"p2","type":"quantitative"},"y":{"field":"q2","type":"quantitative"},"text":{"field":"t2"}}}]},

{"data":{"values":[{"h":0,"Control":0,"Cu":0,"DSF":0,"DSF/Cu":0},{"h":12,"Control":1.3,"Cu":1.3,"DSF":1.7,"DSF/Cu":1.7},{"h":18,"Control":2,"Cu":2,"DSF":4.5,"DSF/Cu":5.7},{"h":24,"Control":1.5,"Cu":2,"DSF":8,"DSF/Cu":17.4},{"h":36,"Control":2.7,"Cu":4.5,"DSF":12,"DSF/Cu":28}]},"transform":[{"fold":["DSF/Cu","DSF","Cu","Control"],"as":["k","v"]}],"mark":{"type":"line","strokeWidth":1,"point":{"filled":true,"size":8}},"encoding":{"x":{"field":"h","type":"ordinal","scale":{"type":"point","domain":[0,12,18,24,36],"range":[351,434]},"axis":{"disable":false,"orient":"bottom","offset":-28,"title":null,"labelAngle":0,"labelFontSize":5,"tickSize":2,"labelPadding":2,"domainColor":"#666"}},"y":{"field":"v","type":"quantitative","scale":{"domain":[0,40],"range":[867,804]},"axis":{"disable":false,"orient":"left","offset":-351,"values":[0,10,20,30,40],"title":"Sub-G1(%)","titleFontSize":7,"labelFontSize":5,"tickSize":2,"labelPadding":1,"titleX":-11}},"color":{"field":"k","type":"nominal","scale":{"domain":["Control","Cu","DSF","DSF/Cu"],"range":["#e8352a","#72bf44","#2a5caa","#b48ed0"]},"legend":{"orient":"none","legendX":358,"legendY":800,"title":null,"labelFontSize":6,"rowPadding":3,"labelOffset":4,"symbolType":"M-.5,0H.5M-.12,-.12H.12V.12H-.12Z","symbolSize":64,"symbolStrokeWidth":1}}}},
{"data":{"values":[{"a":0,"b":20,"h":0},{"l":8,"m":2,"m2":5},{"l":28,"m":3,"m2":12},{"l":48,"m":1,"m2":28},{"p":22,"q":5.7,"t":"**"},{"p":35,"q":7.6,"t":"****"},{"p":58,"q":18,"t":"****"},{"p2":32,"q2":-4,"t2":"(h)"}]},"layer":[{"mark":{"type":"rule","style":"w"},"encoding":{"x":{"field":"a","type":"quantitative","scale":{"domain":[0,100],"range":[434,474]}},"x2":{"field":"b"},"y":{"field":"h","type":"quantitative","scale":{"domain":[0,40],"range":[867,804]}}}},{"mark":{"type":"rule","style":"v"},"encoding":{"x":{"field":"l","type":"quantitative"},"y":{"field":"m","type":"quantitative"},"y2":{"field":"m2"}}},{"mark":{"type":"text","style":"z"},"encoding":{"x":{"field":"p","type":"quantitative"},"y":{"field":"q","type":"quantitative"},"text":{"field":"t"}}},{"mark":{"type":"text","style":"t"},"encoding":{"x":{"field":"p2","type":"quantitative"},"y":{"field":"q2","type":"quantitative"},"text":{"field":"t2"}}}]}
]}
